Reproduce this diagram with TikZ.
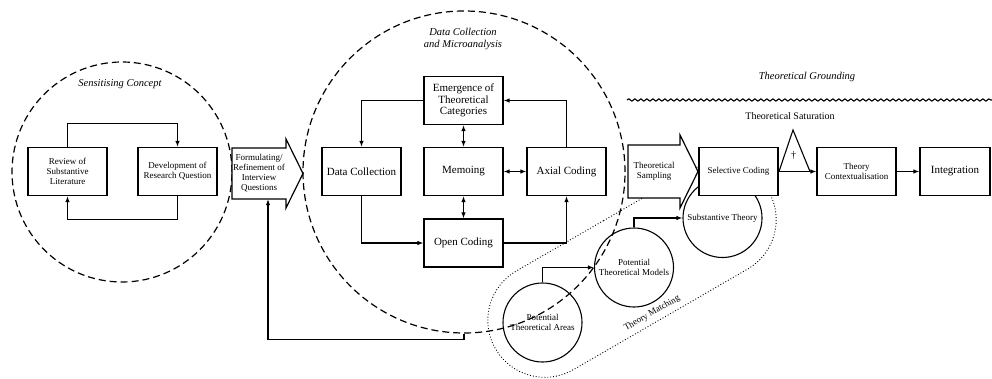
\documentclass[tikz,border=0pt]{standalone}
\usepackage{fontspec}
\setmainfont{Liberation Serif}
\usepackage{tikz}
\usetikzlibrary{arrows.meta,shapes.misc,decorations.pathmorphing}

\begin{document}
\begin{tikzpicture}[x=1pt,y=-1pt,
  >={Latex[length=6pt,width=4.5pt]},
  box/.style={draw,fill=white,line width=1.2pt,minimum width=79pt,minimum height=48pt,align=center,inner sep=2pt},
  bigtxt/.style={font=\fontsize{11}{11.5}\selectfont},
  smalltxt/.style={font=\fontsize{9}{10}\selectfont},
  theo/.style={draw,circle,line width=1.1pt,minimum size=79pt,inner sep=0pt,align=center,font=\fontsize{9}{10}\selectfont},
  zone/.style={draw,circle,dash pattern=on 7pt off 4pt,line width=1.2pt,inner sep=0pt},
  ttl/.style={font=\itshape\fontsize{10.5}{12}\selectfont,align=center},
  conn/.style={->,line width=1.1pt}]
  \useasboundingbox (0,0) rectangle (992,379);

  % sensitising concept
  \node[zone,minimum size=220pt] (sens) at (122,172) {};
  \node[ttl] (senst) at (120,84) {Sensitising Concept};
  \node[box,smalltxt] (rev) at (67.5,171.5) {Review of\\Substantive\\Literature};
  \node[box,smalltxt] (dev) at (177.5,171.5) {Development of\\Research Question};
  \draw[conn] (rev.north) -- ++(0,-23) -| (dev.north);
  \draw[conn] (dev.south) -- ++(0,23) -| (rev.south);

  % formulating arrow
  \draw[line width=1.2pt,fill=white] (232,148) -- (286,148) -- (286,139)
    -- (303,173.5) -- (286,208) -- (286,199) -- (232,199) -- cycle;
  \node[smalltxt,align=center,minimum width=54pt,minimum height=51pt,inner sep=0pt] (frm)
    at (259,173.5) {Formulating/\\Refinement of\\Interview\\Questions};

  % data collection and microanalysis
  \node[zone,minimum size=322pt] (dcm) at (464,172) {};
  \node[ttl] (dcmt) at (463,39) {Data Collection\\and Microanalysis};
  \node[box,bigtxt] (emg) at (463.5,100.5) {Emergence of\\Theoretical\\Categories};
  \node[box,bigtxt] (dc) at (361.5,171.5) {Data Collection};
  \node[box,bigtxt] (mem) at (463.5,171.5) {Memoing};
  \node[box,bigtxt] (ax) at (566.5,171.5) {Axial Coding};
  \node[box,bigtxt] (oc) at (463.5,243) {Open Coding};
  \draw[conn] (emg.west) -| (dc.north);
  \draw[conn] (ax.north) |- (emg.east);
  \draw[conn,<->] (emg) -- (mem);
  \draw[conn,<->] (mem) -- (ax);
  \draw[conn,<->] (mem) -- (oc);
  \draw[conn] (dc.south) |- (oc.west);
  \draw[conn] (oc.east) -| (ax.south);

  % theory matching
  \node[draw,dotted,rounded rectangle,minimum width=322pt,minimum height=114pt,
    rotate=30,line width=.9pt] (tm) at (632,270) {};
  \node[rotate=30,anchor=south,inner sep=3pt,font=\fontsize{9}{10}\selectfont] (tmt)
    at ([xshift=-5pt]tm.south) {Theory Matching};
  \node[theo] (pta) at (542.5,322.5) {Potential\\Theoretical Areas};
  \node[theo] (ptm) at (634,267.5) {Potential\\Theoretical Models};
  \node[theo] (st) at (722.5,218) {Substantive Theory};
  \draw[conn] (pta.north) |- (ptm.west);
  \draw[conn] (ptm.north) |- (st.west);

  \draw[conn] (dcm.south) -- ++(0,6) -| ([xshift=9pt]frm.south);

  % theoretical grounding
  \draw[decorate,decoration={snake,segment length=6pt,amplitude=1.1pt},line width=1.1pt]
    (627,100) -- (992,100);
  \node[ttl] (grd) at (807,77) {Theoretical Grounding};
  \node[font=\fontsize{10}{12}\selectfont] (sat) at (790,116) {Theoretical Saturation};

  \draw[line width=1.2pt,fill=white] (628,145) -- (680,145) -- (680,135)
    -- (698,171.5) -- (680,208) -- (680,198) -- (628,198) -- cycle;
  \node[smalltxt,align=center] (samp) at (654,171.5) {Theoretical\\Sampling};
  \node[box,smalltxt] (sel) at (738.5,171.5) {Selective Coding};
  \node[box,smalltxt] (ctx) at (856.5,171.5) {Theory\\Contextualisation};
  \node[box,bigtxt,minimum width=70pt] (int) at (955,171.5) {Integration};
  \draw[conn] (sel) -- (ctx);
  \draw[conn] (ctx) -- (int);
  \draw[line width=1.1pt] (779,171.5) -- (793,130) -- (810,171.5);
  \node[font=\fontsize{10}{10}\selectfont] (dag) at (793.5,156) {\textdagger};
\end{tikzpicture}
\end{document}
